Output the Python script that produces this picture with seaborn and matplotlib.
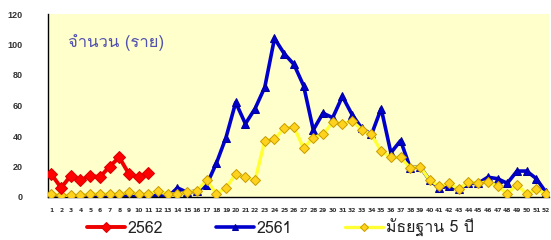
import matplotlib
matplotlib.use("Agg")
import matplotlib.pyplot as plt
from matplotlib import font_manager
import seaborn as sns
import pandas as pd

weeks = list(range(1, 53))
s2562 = [15, 6, 14, 11, 14, 13, 20, 26, 15, 13, 16]
s2561 = [0, 0, 0, 1, 1, 0, 0, 1, 1, 0, 1, 1, 0, 6, 3, 4, 8, 22, 39, 62,
         48, 58, 72, 104, 94, 87, 73, 44, 55, 52, 66, 54, 45, 41, 58, 29, 37, 19, 20, 11,
         6, 7, 5, 9, 9, 13, 12, 9, 17, 17, 12, 3]
median5 = [2, 1, 1, 1, 2, 2, 2, 2, 3, 2, 2, 4, 2, 2, 3, 4, 11, 2, 6, 15,
           13, 11, 37, 38, 45, 46, 32, 39, 41, 49, 48, 50, 44, 41, 30, 26, 26, 19, 20, 11,
           7, 9, 5, 10, 9, 10, 7, 2, 8, 2, 5, 2]
labels = ["2562", "2561", "มัธยฐาน 5 ปี"]
ylabel_text = "จำนวน (ราย)"

# find a font with Thai glyphs
thai_font = None
try:
    from fontTools.ttLib import TTFont
    for f in font_manager.fontManager.ttflist:
        try:
            tt = TTFont(f.fname, fontNumber=0, lazy=True)
            cmap = tt.getBestCmap()
            if cmap and 0x0E08 in cmap and 0x0E4F in cmap:
                thai_font = f.name
                break
        except Exception:
            pass
except Exception:
    pass

sns.set_style("white")
fams = ([thai_font] if thai_font else []) + ["DejaVu Sans"]
plt.rcParams['font.family'] = fams

fig = plt.figure(figsize=(5.51, 2.40), dpi=100)
ax = fig.add_axes([48/551, 43/240, 501/551, 183/240])
ax.set_facecolor("#FFFFCC")

df_b = pd.DataFrame({"week": weeks, "v": s2561})
df_y = pd.DataFrame({"week": weeks, "v": median5})
df_r = pd.DataFrame({"week": weeks[:len(s2562)], "v": s2562})

sns.lineplot(data=df_b, x="week", y="v", ax=ax, color="#0000CC", lw=2.6,
             marker="^", markersize=5.5, markeredgecolor="#000099",
             markerfacecolor="#0000CC", label=labels[1], zorder=2)
sns.lineplot(data=df_y, x="week", y="v", ax=ax, color="#FFFF33", lw=2.4,
             marker="D", markersize=5, markeredgecolor="#C89B00",
             markerfacecolor="#FFD21E", markeredgewidth=0.7, label=labels[2], zorder=3)
sns.lineplot(data=df_r, x="week", y="v", ax=ax, color="#EE0000", lw=2.8,
             marker="D", markersize=6.5, markeredgecolor="#DD0000",
             markerfacecolor="#FF0000", label=labels[0], zorder=4)

ax.set_xlim(0.65, 52.3)
ax.set_ylim(0, 120)
ax.set_yticks(range(0, 121, 20))
ax.set_xticks(weeks)
ax.set_xticklabels([str(w) for w in weeks], fontsize=4.3, fontweight="bold",
                   color="#333333", family="Liberation Sans Narrow")
for t in ax.get_yticklabels():
    t.set_fontsize(6.5)
    t.set_fontweight("bold")
    t.set_color("#333333")
    t.set_family("Liberation Sans")
ax.tick_params(axis="y", direction="out", length=5, width=0.8, color="black", pad=13)
ax.tick_params(axis="x", direction="out", length=3, width=0.6, color="black", pad=5)
ax.set_xlabel("")
ax.set_ylabel("")
for side in ["top", "right"]:
    ax.spines[side].set_visible(False)
for side in ["left", "bottom"]:
    ax.spines[side].set_color("black")
    ax.spines[side].set_linewidth(1.0)

ax.text(0.04, 0.845, ylabel_text, transform=ax.transAxes, fontsize=12,
        color="#5050B0", ha="left", va="center")

h, l = ax.get_legend_handles_labels()
order = [l.index(x) for x in labels]
leg = ax.legend([h[i] for i in order], [l[i] for i in order], loc="center left",
                bbox_to_anchor=(87/551, 1 - 228/240), bbox_transform=fig.transFigure,
                ncol=3, frameon=False, fontsize=11.5, markerscale=0.8,
                handlelength=2.4, columnspacing=3.3, handletextpad=0.15,
                labelcolor="#222222", borderaxespad=0, borderpad=0)
for t in leg.get_texts():
    t.set_family([thai_font, "Liberation Sans"] if thai_font else ["Liberation Sans"])

fig.savefig("out.png", dpi=100, facecolor="white")
